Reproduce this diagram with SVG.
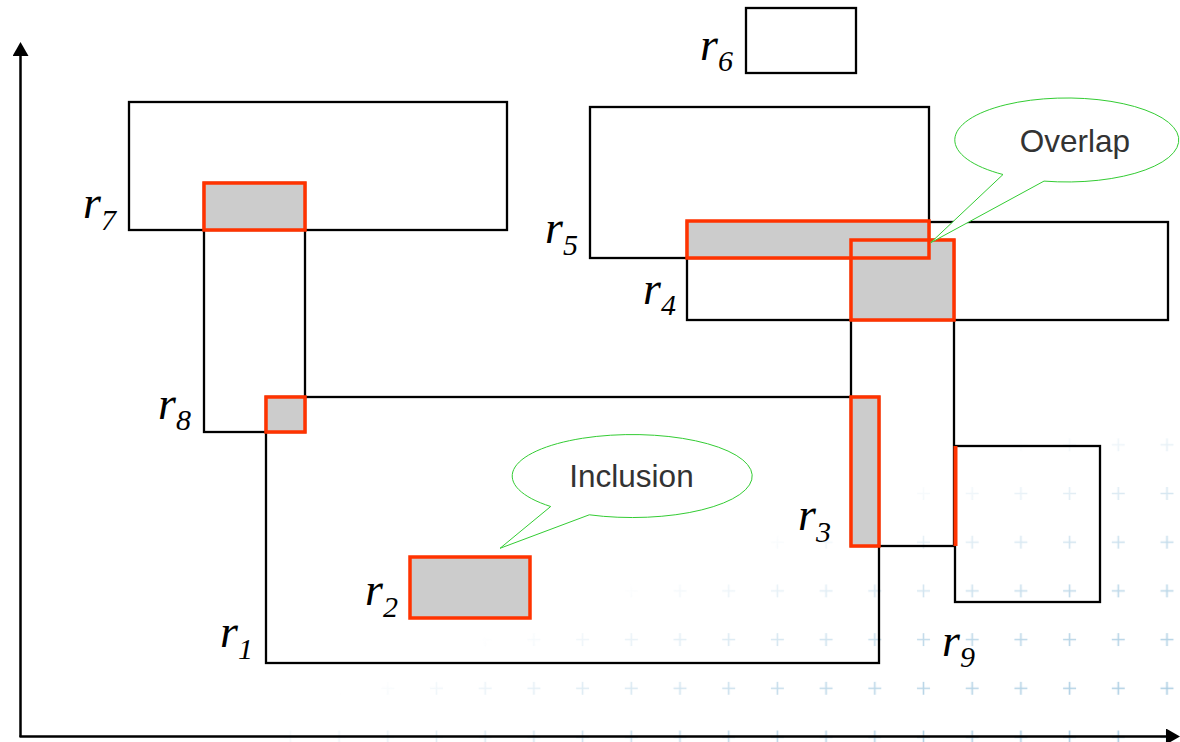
<svg xmlns="http://www.w3.org/2000/svg" width="1180" height="742" viewBox="0 0 1180 742">
<style>
.box{fill:none;stroke:#000;stroke-width:2.3}
.hit{fill:#cccccc;stroke:none}
.hl{fill:none;stroke:#ff3300;stroke-width:3.5}
.lbl{font-family:"Liberation Serif","Times New Roman",serif;font-style:italic;font-size:46px;fill:#000}
.sub{font-size:30px}
.call{fill:#fff;stroke:#33cc33;stroke-width:1}
.ctext{font-family:"Liberation Sans",Arial,sans-serif;font-size:31.5px;fill:#333;text-anchor:middle}
.axis{stroke:#000;stroke-width:2.5;fill:none;marker-end:url(#arr)}
</style>
<defs>
<marker id="arr" viewBox="0 0 14 16" refX="4" refY="8" markerWidth="14" markerHeight="16" markerUnits="userSpaceOnUse" orient="auto">
<path d="M0,0 L14,8 L0,16 Z" fill="#000"/>
</marker>
<pattern id="plus" patternUnits="userSpaceOnUse" x="1142.65" y="712.65" width="48.7" height="48.7">
<path d="M24.35,17.85 V30.85 M17.85,24.35 H30.85" stroke="#a2c8df" stroke-width="1.6" fill="none"/>
</pattern>
<linearGradient id="fade" gradientUnits="userSpaceOnUse" x1="1054" y1="405" x2="1180" y2="742">
<stop offset="0.05" stop-color="#000"/>
<stop offset="0.13" stop-color="#222"/>
<stop offset="0.5" stop-color="#aaa"/>
<stop offset="1" stop-color="#fff"/>
</linearGradient>
<mask id="fm"><rect x="0" y="0" width="1180" height="742" fill="url(#fade)"/></mask>
</defs>
<rect width="1180" height="742" fill="#fff"/>
<rect x="250" y="420" width="930" height="322" fill="url(#plus)" mask="url(#fm)"/>

<g id="r1"><rect class="box" x="266" y="397" width="613" height="266"/><text class="lbl" x="220" y="647">r<tspan class="sub" dy="12">1</tspan></text></g>
<g id="r3"><rect class="box" x="851" y="240" width="103" height="306"/><text class="lbl" x="798" y="530">r<tspan class="sub" dy="12">3</tspan></text></g>
<g id="r4"><rect class="box" x="687" y="222" width="481" height="98"/><text class="lbl" x="643" y="304">r<tspan class="sub" dy="11">4</tspan></text></g>
<g id="r5"><rect class="box" x="590" y="107" width="339" height="151"/><text class="lbl" x="545" y="243">r<tspan class="sub" dy="12">5</tspan></text></g>
<g id="r6"><rect class="box" x="746" y="8" width="110" height="65"/><text class="lbl" x="700" y="60">r<tspan class="sub" dy="11">6</tspan></text></g>
<g id="r7"><rect class="box" x="129" y="102" width="378" height="128"/><text class="lbl" x="83" y="218">r<tspan class="sub" dy="12">7</tspan></text></g>
<g id="r8"><rect class="box" x="204" y="183" width="101" height="249"/><text class="lbl" x="158" y="419">r<tspan class="sub" dy="11">8</tspan></text></g>
<g id="r9"><rect class="box" x="955" y="446" width="145" height="156"/><text class="lbl" x="942" y="656">r<tspan class="sub" dy="11">9</tspan></text></g>

<g id="intersections">
<rect class="hit" x="204" y="183" width="101" height="47"/>
<rect class="hit" x="266" y="397" width="39" height="35"/>
<rect class="hit" x="687" y="221" width="242" height="37"/>
<rect class="hit" x="851" y="240" width="103" height="80"/>
<rect class="hit" x="851" y="397" width="28" height="149"/>
<rect class="hl" x="204" y="183" width="101" height="47"/>
<rect class="hl" x="266" y="397" width="39" height="35"/>
<rect class="hl" x="687" y="221" width="242" height="37"/>
<rect class="hl" x="851" y="240" width="103" height="80"/>
<rect class="hl" x="851" y="397" width="28" height="149"/>
<line x1="955.5" y1="446" x2="955.5" y2="546" stroke="#ff3300" stroke-width="4"/>
</g>
<g id="r2"><rect class="hit" x="410" y="557" width="120" height="61"/><rect class="hl" x="410" y="557" width="120" height="61"/><text class="lbl" x="365" y="605">r<tspan class="sub" dy="12">2</tspan></text></g>

<g id="callout-inclusion">
<path class="call" d="M550.7,506.5 L500,548.3 L589.3,514.8 A120,41.5 0 1 0 550.7,506.5 Z"/>
<text class="ctext" x="631.5" y="487">Inclusion</text>
</g>
<g id="callout-overlap">
<path class="call" d="M1003,174.5 L930.7,242.7 L1044,181.1 A112,42 0 1 0 1003,174.5 Z"/>
<text class="ctext" x="1075" y="152">Overlap</text>
</g>

<g id="connectors">
<line class="axis" x1="20.5" y1="737" x2="20.5" y2="52"/>
<line class="axis" x1="19.5" y1="736.5" x2="1170" y2="736.5"/>
</g>
</svg>
